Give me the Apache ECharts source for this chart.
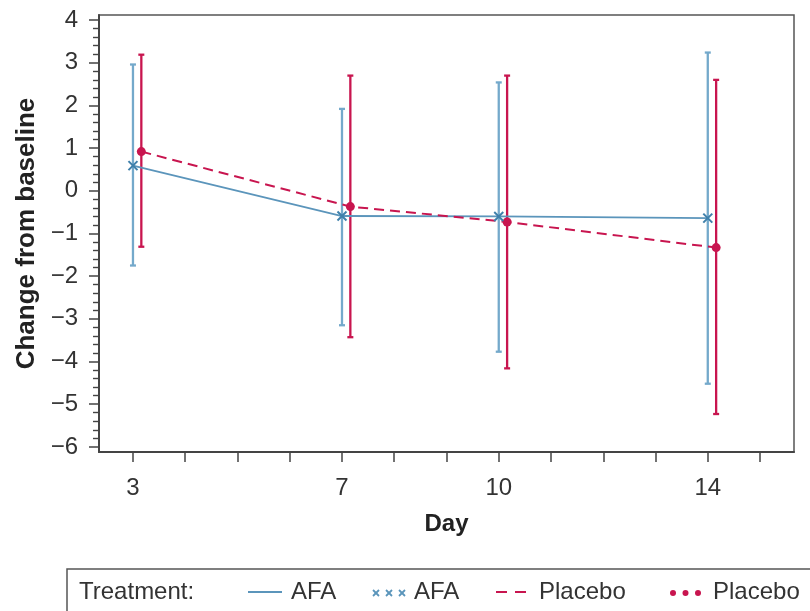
<!DOCTYPE html>
<html>
<head>
<meta charset="utf-8">
<script src="https://cdn.jsdelivr.net/npm/echarts@6/dist/echarts.min.js"></script>
<style>
html, body { margin: 0; padding: 0; background: #fff; }
#main { width: 810px; height: 611px; }
</style>
</head>
<body>
<div id="main"></div>
<script>
// values
var days = [3, 7, 10, 14];
var afaMean = [0.59, -0.59, -0.60, -0.64];
var afaLow = [-1.75, -3.15, -3.77, -4.52];
var afaHigh = [2.96, 1.92, 2.54, 3.24];
var placeboMean = [0.92, -0.37, -0.73, -1.33];
var placeboLow = [-1.31, -3.43, -4.16, -5.23];
var placeboHigh = [3.19, 2.70, 2.70, 2.60];

var xTicks = [3, 4, 5, 6, 7, 8, 9, 10, 11, 12, 13, 14, 15];
var xLabels = [3, 7, 10, 14];
var yTicks = [-6, -5, -4, -3, -2, -1, 0, 1, 2, 3, 4];

var blue = '#5b95bb';
var blueBar = '#74a9cb';
var red = '#c8154f';
var font = '"Liberation Sans", Arial, Helvetica, sans-serif';
var dodge = 0.16; // placebo drawn a bit to the right

var yMinor = [];
for (var t = -60; t <= 40; t += 2) {
    if (t % 10 !== 0) yMinor.push(t / 10);
}

function barSeries(low, high, shift, color) {
    return {
        type: 'custom',
        z: 2,
        data: days.map(function (d, i) { return [d + shift, low[i], high[i]]; }),
        encode: { x: 0, y: [1, 2] },
        renderItem: function (params, api) {
            var lo = api.coord([api.value(0), api.value(1)]);
            var hi = api.coord([api.value(0), api.value(2)]);
            var w = 3;
            var st = { stroke: color, lineWidth: 2.3 };
            return {
                type: 'group',
                children: [
                    { type: 'line', shape: { x1: lo[0], y1: lo[1], x2: hi[0], y2: hi[1] }, style: st },
                    { type: 'line', shape: { x1: lo[0] - w, y1: lo[1], x2: lo[0] + w, y2: lo[1] }, style: st },
                    { type: 'line', shape: { x1: hi[0] - w, y1: hi[1], x2: hi[0] + w, y2: hi[1] }, style: st }
                ]
            };
        }
    };
}

// legend glyphs: three small crosses and three dots
var legendMarks = [];
[376, 389, 402].forEach(function (cx) {
    legendMarks.push({ type: 'line', shape: { x1: cx - 3, y1: 590, x2: cx + 3, y2: 596 }, style: { stroke: blue, lineWidth: 1.8 } });
    legendMarks.push({ type: 'line', shape: { x1: cx - 3, y1: 596, x2: cx + 3, y2: 590 }, style: { stroke: blue, lineWidth: 1.8 } });
});
[673, 685.5, 698].forEach(function (cx) {
    legendMarks.push({ type: 'circle', shape: { cx: cx, cy: 593, r: 3 }, style: { fill: red } });
});

var myChart = echarts.init(document.getElementById('main'));
var option = {
    animation: false,
    textStyle: { fontFamily: font },
    grid: {
        left: 99,
        top: 15,
        right: 16,
        bottom: 159,
        show: true,
        borderColor: '#555',
        borderWidth: 1.5
    },
    xAxis: {
        type: 'value',
        min: 2.35,
        max: 15.65,
        name: 'Day',
        nameLocation: 'middle',
        nameGap: 60,
        nameTextStyle: { fontSize: 24, fontWeight: 'bold', color: '#222', fontFamily: font },
        axisLine: { show: true, onZero: false, lineStyle: { color: '#444', width: 2 } },
        axisTick: { show: true, length: 10, customValues: xTicks, lineStyle: { color: '#444', width: 1.5 } },
        axisLabel: { customValues: xLabels, fontSize: 24, color: '#333', margin: 24, fontFamily: font },
        splitLine: { show: false }
    },
    yAxis: [
        {
            type: 'value',
            min: -6.12,
            max: 4.12,
            name: 'Change from baseline',
            nameLocation: 'middle',
            nameGap: 56,
            nameTextStyle: { fontSize: 26, fontWeight: 'bold', color: '#222', fontFamily: font },
            axisLine: { show: true, onZero: false, lineStyle: { color: '#444', width: 2 } },
            axisTick: { show: true, length: 10, customValues: yTicks, lineStyle: { color: '#444', width: 1.5 } },
            axisLabel: {
                customValues: yTicks, fontSize: 24, color: '#333', margin: 21, fontFamily: font,
                formatter: function (v) { return String(v).replace('-', '\u2212'); }
            },
            splitLine: { show: false }
        },
        {
            type: 'value',
            min: -6.12,
            max: 4.12,
            position: 'left',
            axisLine: { show: false, onZero: false },
            axisTick: { show: true, length: 6, customValues: yMinor, lineStyle: { color: '#444', width: 1.4 } },
            axisLabel: { show: false },
            splitLine: { show: false }
        }
    ],
    series: [
        barSeries(afaLow, afaHigh, 0, blueBar),
        barSeries(placeboLow, placeboHigh, dodge, red),
        {
            name: 'AFA',
            type: 'line',
            z: 3,
            symbol: 'none',
            lineStyle: { color: blue, width: 1.8 },
            data: days.map(function (d, i) { return [d, afaMean[i]]; })
        },
        {
            name: 'Placebo',
            type: 'line',
            z: 4,
            symbol: 'circle',
            symbolSize: 9,
            itemStyle: { color: red },
            lineStyle: { color: red, width: 2, type: [10, 6] },
            data: days.map(function (d, i) { return [d + dodge, placeboMean[i]]; })
        },
        {
            type: 'custom',
            z: 5,
            data: days.map(function (d, i) { return [d, afaMean[i]]; }),
            encode: { x: 0, y: 1 },
            renderItem: function (params, api) {
                var p = api.coord([api.value(0), api.value(1)]);
                var r = 4.5;
                var st = { stroke: '#3f80ab', lineWidth: 2 };
                return {
                    type: 'group',
                    children: [
                        { type: 'line', shape: { x1: p[0] - r, y1: p[1] - r, x2: p[0] + r, y2: p[1] + r }, style: st },
                        { type: 'line', shape: { x1: p[0] - r, y1: p[1] + r, x2: p[0] + r, y2: p[1] - r }, style: st }
                    ]
                };
            }
        }
    ],
    graphic: [
        { type: 'rect', shape: { x: 67, y: 569, width: 800, height: 80 }, style: { fill: 'none', stroke: '#555', lineWidth: 1.5 } },
        { type: 'text', x: 79, y: 592, style: { text: 'Treatment:', font: '24px ' + font, fill: '#333', verticalAlign: 'middle' } },
        { type: 'line', shape: { x1: 248, y1: 592, x2: 282, y2: 592 }, style: { stroke: blue, lineWidth: 1.8 } },
        { type: 'text', x: 291, y: 592, style: { text: 'AFA', font: '24px ' + font, fill: '#333', verticalAlign: 'middle' } },
        { type: 'text', x: 414, y: 592, style: { text: 'AFA', font: '24px ' + font, fill: '#333', verticalAlign: 'middle' } },
        { type: 'line', shape: { x1: 496, y1: 592, x2: 530, y2: 592 }, style: { stroke: red, lineWidth: 1.8, lineDash: [11, 8] } },
        { type: 'text', x: 539, y: 592, style: { text: 'Placebo', font: '24px ' + font, fill: '#333', verticalAlign: 'middle' } },
        { type: 'text', x: 713, y: 592, style: { text: 'Placebo', font: '24px ' + font, fill: '#333', verticalAlign: 'middle' } }
    ].concat(legendMarks)
};
myChart.setOption(option);
</script>
</body>
</html>
